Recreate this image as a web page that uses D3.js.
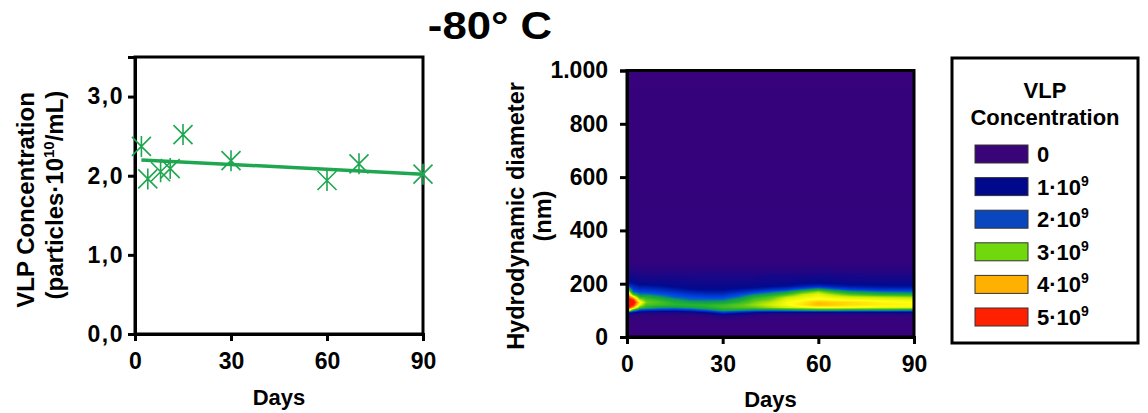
<!DOCTYPE html>
<html><head><meta charset="utf-8">
<script src="https://cdn.jsdelivr.net/npm/d3@7"></script>
<style>
html,body{margin:0;padding:0;background:#fff;}
svg text{font-family:"Liberation Sans",Arial,sans-serif;font-weight:bold;fill:#000;}
</style></head>
<body>
<svg id="chart" width="1148" height="413"></svg>
<script>
// ---------- data: left panel ----------
const scatterDays = [2, 4, 8, 11, 15, 30, 60, 70, 90];
const scatterConc = [2.37, 1.96, 2.05, 2.09, 2.52, 2.19, 1.94, 2.15, 2.02];
const trendDays = [2, 90];
const trendConc = [2.20, 2.02];
const leftYTicks = [0, 1, 2, 3];
const leftYTickLabels = ["0,0", "1,0", "2,0", "3,0"];
const xTicks = [0, 30, 60, 90];

// ---------- data: right panel (concentration, units of 1e9) ----------
const heatDays = [0, 2, 4, 6, 10, 15, 20, 25, 30, 35, 40, 45, 50, 55, 60, 65, 70, 80, 90];
const heatDiam = [0, 60, 80, 90, 100, 110, 120, 130, 140, 150, 160, 170, 180, 190, 200, 215, 230, 250, 280, 1000];
const heatValues = [
  [0,0,0.2,1.2,4.4,5.0,5.0,5.0,5.0,4.9,4.7,4.2,3.0,2.0,1.3,0.9,0.6,0.35,0.1,0],
  [0,0,0.1,0.8,2.6,4.2,4.8,5.0,4.7,4.0,2.9,2.0,1.7,1.4,1.1,0.8,0.6,0.35,0.1,0],
  [0,0,0.1,0.5,1.7,3.0,3.6,3.9,3.4,2.8,2.2,1.8,1.5,1.2,0.9,0.7,0.5,0.3,0.1,0],
  [0,0,0.1,0.4,1.6,2.7,3.0,3.2,3.0,2.7,2.2,1.8,1.5,1.2,0.9,0.7,0.5,0.3,0.1,0],
  [0,0,0.1,0.4,1.5,2.4,2.9,3.0,2.8,2.4,2.0,1.7,1.4,1.1,0.85,0.7,0.5,0.3,0.1,0],
  [0,0,0.1,0.4,1.4,2.3,2.8,2.7,2.4,2.0,1.8,1.5,1.2,0.95,0.8,0.7,0.5,0.3,0.1,0],
  [0,0,0.1,0.5,1.6,2.5,2.8,2.5,2.1,1.9,1.6,1.3,1.0,0.85,0.75,0.65,0.5,0.3,0.1,0],
  [0,0,0.2,0.8,2.0,2.7,2.8,2.4,2.1,1.8,1.5,1.2,0.95,0.8,0.75,0.65,0.5,0.3,0.1,0],
  [0,0,0.5,1.5,2.5,2.9,2.9,2.5,2.1,1.8,1.5,1.2,0.95,0.8,0.75,0.65,0.5,0.3,0.1,0],
  [0,0,0.3,1.2,2.4,3.0,3.1,2.8,2.5,2.1,1.8,1.4,1.05,0.85,0.75,0.65,0.5,0.3,0.1,0],
  [0,0,0.2,0.8,2.2,3.1,3.3,3.2,3.0,2.7,2.2,1.7,1.2,0.9,0.8,0.65,0.5,0.3,0.1,0],
  [0,0,0.1,0.6,2.2,3.3,3.5,3.4,3.2,3.0,2.5,2.0,1.4,1.0,0.85,0.7,0.55,0.3,0.1,0],
  [0,0,0.1,0.6,2.3,3.5,3.7,3.7,3.6,3.4,2.9,2.3,1.6,1.1,0.9,0.7,0.55,0.3,0.1,0],
  [0,0,0.1,0.6,2.4,3.6,3.9,3.85,3.7,3.6,3.4,2.9,2.0,1.3,1.0,0.75,0.55,0.3,0.1,0],
  [0,0,0.1,0.6,2.5,3.7,4.15,4.1,3.8,3.7,3.6,3.3,2.4,1.5,1.0,0.8,0.6,0.35,0.1,0],
  [0,0,0.1,0.6,2.5,3.7,4.05,4.0,3.75,3.6,3.3,2.8,2.0,1.3,1.0,0.75,0.55,0.3,0.1,0],
  [0,0,0.1,0.6,2.4,3.7,3.95,3.95,3.7,3.5,3.0,2.4,1.7,1.2,0.9,0.7,0.55,0.3,0.1,0],
  [0,0,0.1,0.6,2.4,3.6,3.85,3.8,3.65,3.4,2.7,2.1,1.5,1.1,0.9,0.7,0.5,0.3,0.1,0],
  [0,0,0.1,0.6,2.3,3.6,3.8,3.75,3.6,3.3,2.6,2.0,1.5,1.1,0.9,0.7,0.5,0.3,0.1,0]
];
const rightYTicks = [0, 200, 400, 600, 800, 1000];
const rightYTickLabels = ["0", "200", "400", "600", "800", "1.000"];

// ---------- legend ----------
const legendLabels = ["0", "1·10", "2·10", "3·10", "4·10", "5·10"];
const legendSup = ["", "9", "9", "9", "9", "9"];
const legendColors = ["#3a0479", "#00088c", "#0a46be", "#72d80e", "#ffb000", "#ff2000"];

const colorStops = [0, 1, 1.9, 2.35, 2.7, 3.1, 3.45, 3.75, 4.2, 4.8];
const colorRange = ["#37027b", "#000a90", "#0048e8", "#0f9a5a", "#1eb032", "#5ac81a", "#c8ea00", "#ffff10", "#ffb000", "#ff1000"];

const svg = d3.select("#chart");
const green = "#1fa650";

// title
svg.append("text").attr("transform", "translate(490,39) scale(1.15,1)").attr("text-anchor", "middle")
  .attr("font-size", 38).text("-80° C");

function styleAxis(g, fs) {
  g.select(".domain").attr("stroke-width", 3);
  g.selectAll(".tick line").attr("stroke-width", 3);
  g.selectAll(".tick text").attr("font-size", fs).attr("font-family", "Liberation Sans, Arial, sans-serif").attr("font-weight", "bold");
}

// ---------- left panel ----------
const xL = d3.scaleLinear().domain([0, 90]).range([135, 423]);
const yL = d3.scaleLinear().domain([0, 3.5]).range([334, 57]);

svg.append("rect").attr("x", xL(0)).attr("y", yL(3.5)).attr("width", xL(90) - xL(0)).attr("height", yL(0) - yL(3.5))
  .attr("fill", "none").attr("stroke", "#000").attr("stroke-width", 3);

const gxL = svg.append("g").attr("transform", `translate(0,${yL(0)})`)
  .call(d3.axisBottom(xL).tickValues(xTicks).tickSize(7).tickPadding(12).tickFormat(d3.format("d")));
const gyL = svg.append("g").attr("transform", `translate(${xL(0)},0)`)
  .call(d3.axisLeft(yL).tickValues(leftYTicks).tickSize(7).tickPadding(4).tickFormat((d, i) => leftYTickLabels[i]));
styleAxis(gxL, 23); styleAxis(gyL, 23);
gyL.selectAll(".tick text").attr("letter-spacing", 1.5);

// trend line
svg.append("line")
  .attr("x1", xL(trendDays[0])).attr("y1", yL(trendConc[0]))
  .attr("x2", xL(trendDays[1])).attr("y2", yL(trendConc[1]))
  .attr("stroke", green).attr("stroke-width", 3.5);

// asterisk markers
const ms = 9.5;
const pts = svg.append("g").selectAll("g").data(scatterDays.map((d, i) => [d, scatterConc[i]])).join("g")
  .attr("transform", d => `translate(${xL(d[0])},${yL(d[1])})`);
pts.append("path").attr("d", `M${-ms},${-ms}L${ms},${ms}M${-ms},${ms}L${ms},${-ms}M0,${-ms - 1}L0,${ms + 1}`)
  .attr("stroke", green).attr("stroke-width", 1.6).attr("fill", "none");

svg.append("text").attr("x", xL(45)).attr("y", 405).attr("text-anchor", "middle").attr("font-size", 22).text("Days");
svg.append("text").attr("transform", "translate(34,200) rotate(-90)").attr("text-anchor", "middle").attr("font-size", 24).text("VLP Concentration");
const l2 = svg.append("text").attr("transform", "translate(63,195) rotate(-90)").attr("text-anchor", "middle").attr("font-size", 24);
l2.append("tspan").text("(particles·10");
l2.append("tspan").attr("dy", -9).attr("font-size", 15).text("10");
l2.append("tspan").attr("dy", 9).text("/mL)");

// ---------- right panel ----------
const xR = d3.scaleLinear().domain([0, 90]).range([627, 914]);
const yR = d3.scaleLinear().domain([0, 1000]).range([337, 70.5]);
const color = d3.scaleLinear().domain(colorStops).range(colorRange).clamp(true);

const x0 = Math.round(xR(0)), x1 = Math.round(xR(90));
const y0 = Math.round(yR(1000)), y1 = Math.round(yR(0));
const W = x1 - x0, H = y1 - y0;
const canvas = document.createElement("canvas");
canvas.width = W; canvas.height = H;
const ctx = canvas.getContext("2d");
const img = ctx.createImageData(W, H);
function bis(arr, v) {
  let i = d3.bisectRight(arr, v) - 1;
  i = Math.max(0, Math.min(arr.length - 2, i));
  const t = Math.max(0, Math.min(1, (v - arr[i]) / (arr[i + 1] - arr[i])));
  return [i, t];
}
for (let py = 0; py < H; py++) {
  const dm = yR.invert(y0 + py + 0.5);
  const [j, tj] = bis(heatDiam, dm);
  for (let px = 0; px < W; px++) {
    const dy = xR.invert(x0 + px + 0.5);
    const [i, ti] = bis(heatDays, dy);
    const v = (1 - ti) * ((1 - tj) * heatValues[i][j] + tj * heatValues[i][j + 1]) +
              ti * ((1 - tj) * heatValues[i + 1][j] + tj * heatValues[i + 1][j + 1]);
    const c = d3.rgb(color(v));
    const k = (py * W + px) * 4;
    img.data[k] = c.r; img.data[k + 1] = c.g; img.data[k + 2] = c.b; img.data[k + 3] = 255;
  }
}
ctx.putImageData(img, 0, 0);
svg.append("image").attr("x", x0).attr("y", y0).attr("width", W).attr("height", H)
  .attr("preserveAspectRatio", "none").attr("href", canvas.toDataURL());

svg.append("rect").attr("x", xR(0)).attr("y", yR(1000)).attr("width", xR(90) - xR(0)).attr("height", yR(0) - yR(1000))
  .attr("fill", "none").attr("stroke", "#000").attr("stroke-width", 3);
const gxR = svg.append("g").attr("transform", `translate(0,${yR(0)})`)
  .call(d3.axisBottom(xR).tickValues(xTicks).tickSize(7).tickPadding(12).tickFormat(d3.format("d")));
const gyR = svg.append("g").attr("transform", `translate(${xR(0)},0)`)
  .call(d3.axisLeft(yR).tickValues(rightYTicks).tickSize(7).tickPadding(12).tickFormat((d, i) => rightYTickLabels[i]));
styleAxis(gxR, 23); styleAxis(gyR, 23);
svg.append("text").attr("x", xR(45)).attr("y", 407).attr("text-anchor", "middle").attr("font-size", 22).text("Days");
svg.append("text").attr("transform", "translate(524,216) rotate(-90)").attr("text-anchor", "middle").attr("font-size", 23.5).text("Hydrodynamic diameter");
svg.append("text").attr("transform", "translate(551,216) rotate(-90)").attr("text-anchor", "middle").attr("font-size", 23.5).text("(nm)");

// ---------- legend ----------
svg.append("rect").attr("x", 952).attr("y", 58).attr("width", 186).attr("height", 285)
  .attr("fill", "#fff").attr("stroke", "#000").attr("stroke-width", 3);
svg.append("text").attr("x", 1045).attr("y", 98).attr("text-anchor", "middle").attr("font-size", 22).text("VLP");
svg.append("text").attr("x", 1045).attr("y", 125).attr("text-anchor", "middle").attr("font-size", 22).text("Concentration");
const lg = svg.append("g").selectAll("g").data(legendLabels).join("g")
  .attr("transform", (d, i) => `translate(975,${145 + i * 32.6})`);
lg.append("rect").attr("width", 53).attr("height", 18).attr("fill", (d, i) => legendColors[i]).attr("stroke", "#333").attr("stroke-width", 1);
const lt = lg.append("text").attr("x", 62).attr("y", 17).attr("font-size", 22);
lt.append("tspan").text(d => d);
lt.append("tspan").attr("dy", -9).attr("font-size", 14).text((d, i) => legendSup[i]);
</script>
</body></html>
